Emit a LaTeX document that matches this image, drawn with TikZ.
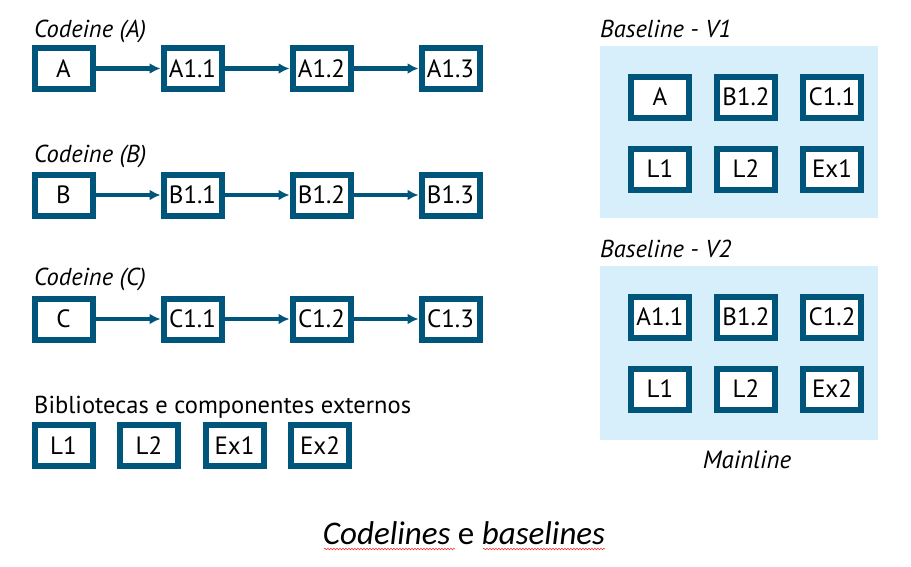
\documentclass[tikz,border=0pt]{standalone}
\usepackage{fontspec}
\setmainfont{PT Sans}
\newfontfamily\captionfont{Carlito}
\usepackage{xcolor}
\usepackage{tikz}
\usetikzlibrary{arrows.meta, positioning, decorations.pathmorphing}

\definecolor{boxblue}{RGB}{0,86,122}
\definecolor{panelblue}{RGB}{214,239,251}

\begin{document}
\begin{tikzpicture}[x=1pt, y=-1pt,
    item/.style={draw=boxblue, line width=6pt, fill=white, minimum width=58pt,
        minimum height=41pt, inner sep=0pt, font=\fontsize{25}{25}\selectfont},
    title/.style={anchor=base west, inner sep=0pt, font=\fontsize{24.5}{24.5}\selectfont\itshape},
    link/.style={draw=boxblue, line width=4pt, -{Latex[length=11pt,width=11pt]}},
    node distance=65pt]
    \useasboundingbox (0,0) rectangle (911,566);

    % Codeline A
    \node[title] (titleA) at (34,37) {Codeine (A)};
    \node[item] (a) at (63.5,68.5) {A};
    \node[item, right=of a] (a11) {A1.1};
    \node[item, right=of a11] (a12) {A1.2};
    \node[item, right=of a12] (a13) {A1.3};
    \draw[link, line width=5.5pt] (a) -- (a11);
    \draw[link, line width=5.5pt] (a11) -- (a12);
    \draw[link, line width=5.5pt] (a12) -- (a13);

    % Codeline B
    \node[title] (titleB) at (34,162) {Codeine (B)};
    \node[item] (b) at (63.5,195) {B};
    \node[item, right=of b] (b11) {B1.1};
    \node[item, right=of b11] (b12) {B1.2};
    \node[item, right=of b12] (b13) {B1.3};
    \draw[link] (b) -- (b11);
    \draw[link] (b11) -- (b12);
    \draw[link] (b12) -- (b13);

    % Codeline C
    \node[title] (titleC) at (34,285) {Codeine (C)};
    \node[item] (c) at (63.5,319) {C};
    \node[item, right=of c] (c11) {C1.1};
    \node[item, right=of c11] (c12) {C1.2};
    \node[item, right=of c12] (c13) {C1.3};
    \draw[link] (c) -- (c11);
    \draw[link] (c11) -- (c12);
    \draw[link] (c12) -- (c13);

    % Libraries
    \node[anchor=base west, inner sep=0pt, font=\fontsize{24.5}{24.5}\selectfont] (titleL) at (34,413) {Bibliotecas e componentes externos};
    \node[item] (l1) at (63.5,445.5) {L1};
    \node[item, right=21.5pt of l1] (l2) {L2};
    \node[item, right=21.5pt of l2] (ex1) {Ex1};
    \node[item, right=21.5pt of ex1] (ex2) {Ex2};

    % Baseline V1
    \fill[panelblue] (600,46) rectangle (878,218);
    \node[title] (titleV1) at (600,37) {Baseline - V1};
    \node[item] (v1a) at (660,97) {A};
    \node[item, right=22pt of v1a] (v1b) {B1.2};
    \node[item, right=22pt of v1b] (v1c) {C1.1};
    \node[item, below=25pt of v1a] (v1l1) {L1};
    \node[item, right=22pt of v1l1] (v1l2) {L2};
    \node[item, right=22pt of v1l2] (v1ex) {Ex1};

    % Baseline V2
    \fill[panelblue] (600,266) rectangle (878,440);
    \node[title] (titleV2) at (600,257) {Baseline - V2};
    \node[item] (v2a) at (660,317) {A1.1};
    \node[item, right=22pt of v2a] (v2b) {B1.2};
    \node[item, right=22pt of v2b] (v2c) {C1.2};
    \node[item, below=25pt of v2a] (v2l1) {L1};
    \node[item, right=22pt of v2l1] (v2l2) {L2};
    \node[item, right=22pt of v2l2] (v2ex) {Ex2};
    \node[anchor=base, inner sep=0pt, font=\fontsize{25}{25}\selectfont\itshape] (mainline) at (747,468) {Mainline};

    % Caption
    \node[anchor=base, inner sep=0pt, font=\captionfont\fontsize{33}{33}\selectfont] (caption) at (464,544) {\textit{Codelines} e \textit{baselines}};
    \draw[red!80, line width=0.6pt, decorate, decoration={snake, amplitude=0.8pt, segment length=3pt}] (324,549) -- (455,549);
    \draw[red!80, line width=0.6pt, decorate, decoration={snake, amplitude=0.8pt, segment length=3pt}] (483,549) -- (605,549);
\end{tikzpicture}
\end{document}
